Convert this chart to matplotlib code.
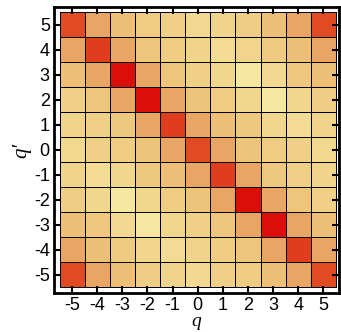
import numpy as np
import matplotlib.pyplot as plt
from matplotlib.colors import LinearSegmentedColormap

plt.rcParams['font.family'] = ['Liberation Sans', 'DejaVu Sans']
plt.rcParams['axes.unicode_minus'] = False

# оси
q = [-5, -4, -3, -2, -1, 0, 1, 2, 3, 4, 5]
q_prime = [5, 4, 3, 2, 1, 0, -1, -2, -3, -4, -5]

# значения по строкам (сверху q'=5 вниз до q'=-5)
row_p5 = [0.75, 0.50, 0.35, 0.27, 0.23, 0.16, 0.20, 0.25, 0.35, 0.50, 0.75]
row_p4 = [0.50, 0.85, 0.50, 0.32, 0.26, 0.21, 0.12, 0.19, 0.28, 0.35, 0.50]
row_p3 = [0.35, 0.50, 1.00, 0.50, 0.31, 0.24, 0.18, 0.00, 0.16, 0.30, 0.35]
row_p2 = [0.23, 0.32, 0.50, 1.00, 0.50, 0.33, 0.27, 0.18, 0.00, 0.18, 0.25]
row_p1 = [0.20, 0.23, 0.29, 0.50, 0.85, 0.50, 0.35, 0.29, 0.18, 0.12, 0.20]
row_0 = [0.17, 0.23, 0.26, 0.33, 0.50, 0.75, 0.50, 0.33, 0.26, 0.23, 0.17]
row_m1 = [0.20, 0.12, 0.18, 0.29, 0.35, 0.50, 0.85, 0.50, 0.29, 0.23, 0.20]
row_m2 = [0.25, 0.18, 0.00, 0.18, 0.27, 0.33, 0.50, 1.00, 0.50, 0.32, 0.23]
row_m3 = [0.35, 0.30, 0.16, 0.00, 0.18, 0.24, 0.31, 0.50, 1.00, 0.50, 0.35]
row_m4 = [0.50, 0.35, 0.28, 0.19, 0.12, 0.21, 0.26, 0.32, 0.50, 0.85, 0.50]
row_m5 = [0.75, 0.50, 0.35, 0.25, 0.20, 0.16, 0.23, 0.27, 0.35, 0.50, 0.75]

M = np.array([row_p5, row_p4, row_p3, row_p2, row_p1, row_0,
              row_m1, row_m2, row_m3, row_m4, row_m5])

cmap = LinearSegmentedColormap.from_list('sunset', [
    (0.00, '#F5E6A0'),
    (0.20, '#F1D48B'),
    (0.35, '#EEC077'),
    (0.50, '#E9A663'),
    (0.75, '#E14B24'),
    (0.85, '#E03C1E'),
    (1.00, '#DC0E0A'),
])

fig = plt.figure(figsize=(3.41, 3.32), dpi=100)
ax = fig.add_axes([54 / 341, 1 - 293 / 332, 285 / 341, 286 / 332])

ax.pcolormesh(q, q_prime, M, cmap=cmap, vmin=0, vmax=1, shading='nearest',
              edgecolors='black', linewidth=0.6)

ax.set_xlim(-5.72, 5.62)
ax.set_ylim(-5.72, 5.70)
ax.set_xticks(q)
ax.set_yticks(q_prime)
ax.tick_params(direction='in', length=5, width=1.5, top=True, right=True,
               labelsize=13, pad=3)
for s in ax.spines.values():
    s.set_linewidth(2)

ax.set_xlabel('q', family=['Liberation Serif', 'DejaVu Serif'], style='italic',
              fontsize=14, labelpad=-0.5)
ax.set_ylabel('q\u2032', family=['Liberation Serif', 'DejaVu Serif'], style='italic',
              fontsize=15, labelpad=2)

plt.savefig('out.png', dpi=100)
